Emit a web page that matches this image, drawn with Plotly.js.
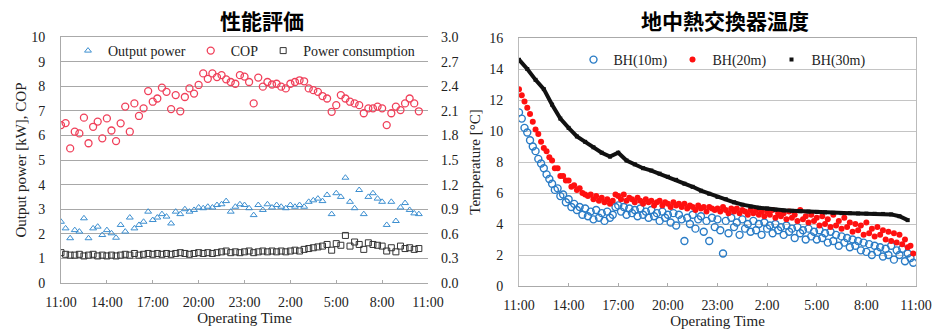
<!DOCTYPE html>
<html><head><meta charset="utf-8">
<script src="https://cdn.plot.ly/plotly-3.0.1.min.js"></script>
<style>html,body{margin:0;padding:0;background:#fff}</style>
</head><body><div id="chart" style="width:937px;height:329px"></div>
<script>
// ---- shared time axis ----
const hourTicks = [0,3,6,9,12,15,18,21,24];
const tickLabels = ['11:00','14:00','17:00','20:00','23:00','2:00','5:00','8:00','11:00'];

// ---- left: 性能評価 (sampled every 0.3 h from 11:00) ----
const perfStep = 0.3;
const outputPower = [2.49,2.22,1.82,2.15,2.09,2.63,1.82,2.22,2.29,1.95,2.15,2.02,1.84,2.36,2.09,2.66,2.22,2.36,2.49,2.9,
  2.56,2.66,2.8,2.7,2.42,2.9,2.8,3.0,2.9,2.97,3.07,3.04,3.1,3.07,3.17,3.2,3.33,2.9,3.1,3.2,
  3.17,3.04,2.76,3.17,2.97,3.2,3.07,3.17,3.1,3.04,3.17,3.1,3.17,3.1,3.3,3.36,3.43,3.33,3.58,2.8,
  3.65,3.5,4.28,3.3,3.04,3.78,2.8,3.5,3.65,3.43,3.3,2.36,3.3,2.52,3.07,3.25,2.97,2.83,2.8];
const cop = [6.42,6.5,5.47,6.15,6.08,6.72,5.68,6.35,6.56,5.88,6.69,6.2,5.77,6.49,7.17,6.15,7.3,6.79,7.1,7.8,
  7.37,7.5,7.94,7.77,7.07,7.64,6.98,7.56,7.91,7.7,8.05,8.52,8.3,8.52,8.37,8.45,8.28,8.17,8.1,8.45,
  8.39,8.17,7.3,8.35,7.98,8.17,8.07,8.1,7.98,7.91,8.1,8.17,8.24,8.2,7.91,7.84,7.77,7.6,7.5,6.96,
  7.23,7.64,7.5,7.37,7.3,7.23,6.9,7.1,7.1,7.17,7.1,6.42,6.9,7.17,7.03,7.3,7.5,7.3,6.98];
const powerConsumption = [0.37,0.35,0.34,0.34,0.35,0.33,0.34,0.35,0.33,0.34,0.33,0.34,0.33,0.34,0.35,0.34,0.36,0.34,0.35,0.36,
  0.35,0.36,0.35,0.36,0.35,0.36,0.37,0.36,0.35,0.36,0.37,0.36,0.37,0.36,0.37,0.38,0.39,0.37,0.38,0.37,
  0.38,0.39,0.37,0.38,0.39,0.38,0.39,0.38,0.39,0.38,0.39,0.40,0.39,0.41,0.42,0.43,0.44,0.45,0.47,0.40,
  0.48,0.46,0.58,0.45,0.50,0.47,0.41,0.49,0.47,0.46,0.45,0.39,0.43,0.38,0.45,0.42,0.43,0.41,0.42];

// ---- right: 地中熱交換器温度 (BH10/BH20 every 10 min, BH30 every 30 min) ----
const tempStep = 1/6;
const bh10 = [11.2,10.8,10.2,9.9,9.4,9.0,8.7,8.2,7.9,7.6,7.2,6.9,
  6.6,6.2,6.3,5.8,5.9,5.4,5.6,5.1,5.3,4.9,5.1,4.6,
  5.0,4.5,4.8,4.3,4.9,4.4,4.7,4.2,4.8,4.4,4.6,5.1,
  5.2,4.8,5.1,4.6,5.0,4.7,4.9,4.5,5.0,4.6,4.8,4.4,
  4.9,4.5,4.7,4.2,4.8,4.4,4.6,4.1,4.7,3.9,4.6,4.3,
  2.9,4.4,4.0,4.6,3.7,4.3,4.5,3.5,4.2,2.9,4.4,3.8,
  4.3,3.6,2.1,4.2,3.4,4.4,3.8,4.1,3.3,4.3,3.7,4.0,
  3.5,4.2,3.6,4.0,3.3,4.1,3.7,3.9,3.4,4.0,3.6,3.8,
  3.3,3.9,3.5,3.7,3.1,3.8,3.4,3.6,3.0,3.7,3.2,3.5,
  3.0,3.6,3.1,3.4,2.8,3.5,2.9,3.3,2.6,3.2,2.8,3.1,
  2.5,3.0,2.6,2.9,2.3,2.8,2.2,2.7,2.0,2.6,2.2,2.5,
  1.9,2.4,2.0,2.6,1.7,2.3,2.0,2.4,1.6,2.1,1.8,1.5];
const bh20 = [12.7,12.3,11.9,11.5,11.1,10.6,10.1,9.8,9.3,8.9,8.7,8.3,
  8.1,7.6,7.6,7.1,7.1,6.8,6.8,6.4,6.5,6.2,6.3,6.0,
  5.9,5.8,5.9,5.6,5.8,5.5,5.7,5.4,5.6,5.3,5.5,5.9,
  5.8,5.6,5.9,5.5,5.7,5.6,5.4,5.7,5.5,5.3,5.6,5.4,
  5.5,5.2,5.4,5.5,5.2,5.4,5.3,5.1,5.4,5.2,5.3,5.1,
  5.3,5.0,5.2,5.1,4.9,5.2,5.0,5.1,4.8,5.1,5.0,4.9,
  5.0,4.8,5.1,4.9,4.7,5.0,4.8,5.0,4.7,4.9,4.8,4.6,
  4.9,4.7,4.9,4.6,4.8,4.5,4.8,4.6,4.9,4.4,4.7,4.5,
  4.7,4.3,4.8,4.4,4.6,4.2,4.9,4.3,4.5,4.1,4.6,4.2,
  4.4,3.9,4.5,4.0,4.3,3.8,4.6,3.9,4.2,3.7,4.4,3.8,
  4.1,3.5,4.0,3.6,3.9,3.3,4.1,3.4,3.7,3.2,3.8,3.3,
  3.6,3.0,3.5,2.9,3.4,2.8,3.3,2.7,3.0,2.5,2.6,2.1];
const bh30Step = 0.5;
const bh30 = [14.6,14.0,13.3,12.7,11.7,10.8,10.2,9.65,9.3,8.95,8.6,8.35,
  8.6,8.1,7.85,7.6,7.45,7.25,7.05,6.85,6.6,6.4,6.15,5.95,
  5.75,5.6,5.4,5.25,5.12,5.05,5.0,4.92,4.88,4.85,4.82,4.8,
  4.78,4.75,4.72,4.7,4.7,4.68,4.67,4.66,4.65,4.62,4.5,4.25];

const serif = 'Liberation Serif, Times New Roman, serif';
const cjk = 'Noto Sans CJK JP, sans-serif';
const tickFont = {family: serif, size: 14, color: '#222'};
const titleFont = {family: serif, size: 15, color: '#222'};

const traces = [
  {name:'Output power', type:'scatter', mode:'markers', x0:0, dx:perfStep, y:outputPower,
   marker:{symbol:'triangle-up-open', size:6, color:'#3d8fd0', line:{width:1}}, xaxis:'x', yaxis:'y', legend:'legend'},
  {name:'COP', type:'scatter', mode:'markers', x0:0, dx:perfStep, y:cop,
   marker:{symbol:'circle-open', size:7, color:'#f0405a', line:{width:1.3}}, xaxis:'x', yaxis:'y', legend:'legend'},
  {name:'Power consumption', type:'scatter', mode:'markers', x0:0, dx:perfStep, y:powerConsumption,
   marker:{symbol:'square-open', size:6, color:'#333', line:{width:1}}, xaxis:'x', yaxis:'y2', legend:'legend'},
  {name:'BH(10m)', type:'scatter', mode:'markers', x0:0, dx:tempStep, y:bh10,
   marker:{symbol:'circle-open', size:7, color:'#2a7cc6', line:{width:1.4}}, xaxis:'x2', yaxis:'y3', legend:'legend2'},
  {name:'BH(20m)', type:'scatter', mode:'markers', x0:0, dx:tempStep, y:bh20,
   marker:{symbol:'circle', size:6, color:'#ff1010'}, xaxis:'x2', yaxis:'y3', legend:'legend2'},
  {name:'BH(30m)', type:'scatter', mode:'lines', x0:0, dx:bh30Step, y:bh30, showlegend:false,
   line:{color:'#111', width:4}, xaxis:'x2', yaxis:'y3'},
  {name:'BH(30m)', type:'scatter', mode:'markers', x0:0, dx:bh30Step, y:bh30,
   marker:{symbol:'square', size:4, color:'#111'}, xaxis:'x2', yaxis:'y3', legend:'legend2'}
];

const xCommon = {range:[0,24], tickmode:'array', tickvals:hourTicks, ticktext:tickLabels,
  showgrid:false, zeroline:false, showline:true, linecolor:'#aaa', mirror:true,
  ticks:'inside', ticklen:3, tickcolor:'#aaa', tickfont:tickFont, ticklabelstandoff:6};

const layout = {
  width:937, height:329, margin:{l:0,r:0,t:0,b:0}, paper_bgcolor:'#fff', plot_bgcolor:'#fff',
  showlegend:true,
  xaxis: Object.assign({}, xCommon, {domain:[61/937, 428/937], anchor:'y',
    title:{text:'Operating Time', font:titleFont, standoff:2}}),
  yaxis: {domain:[(329-283)/329, (329-37)/329], range:[0,10], dtick:1, showgrid:true, gridcolor:'#a8a8a8',
    zeroline:false, showline:true, linecolor:'#aaa', ticks:'', tickfont:tickFont, ticklabelstandoff:12,
    title:{text:'Output power [kW], COP', font:titleFont, standoff:0}},
  yaxis2: {overlaying:'y', side:'right', anchor:'x', range:[0,3], dtick:0.3, tickformat:'.1f',
    showgrid:false, zeroline:false, showline:false, ticks:'', tickfont:tickFont, ticklabelstandoff:12},
  xaxis2: Object.assign({}, xCommon, {domain:[519/937, 916/937], anchor:'y3',
    title:{text:'Operating Time', font:titleFont, standoff:2}}),
  yaxis3: {domain:[(329-286)/329, (329-38)/329], range:[0,16], dtick:2, showgrid:true, gridcolor:'#c4c4c4',
    zeroline:false, showline:true, linecolor:'#bbb', mirror:true, ticks:'', tickfont:tickFont, ticklabelstandoff:12,
    anchor:'x2', title:{text:'Temperature [°C]', font:titleFont, standoff:4}},
  legend: {x:244/937, y:1-51/329, xanchor:'center', yanchor:'middle', orientation:'h',
    font:{family:serif, size:14, color:'#222'}, bgcolor:'rgba(0,0,0,0)', itemwidth:30},
  legend2: {x:722/937, y:1-60/329, xanchor:'center', yanchor:'middle', orientation:'h',
    font:{family:serif, size:14, color:'#222'}, bgcolor:'rgba(0,0,0,0)', itemwidth:30},
  annotations: [
    {text:'性能評価', xref:'paper', yref:'paper', x:262/937, y:1-20/329, xanchor:'center', yanchor:'middle', showarrow:false,
     font:{family:cjk, size:21, color:'#000', weight:'bold'}},
    {text:'地中熱交換器温度', xref:'paper', yref:'paper', x:725/937, y:1-20/329, xanchor:'center', yanchor:'middle', showarrow:false,
     font:{family:cjk, size:21, color:'#000', weight:'bold'}}
  ]
};

Plotly.newPlot('chart', traces, layout, {staticPlot:true, displayModeBar:false});
</script></body></html>
